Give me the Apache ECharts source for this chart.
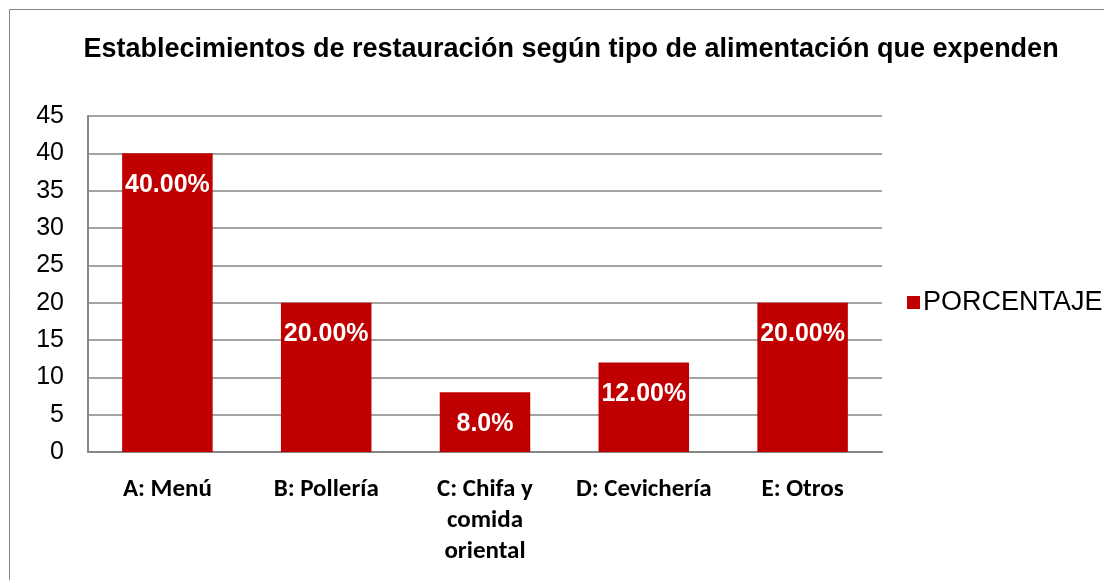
<!DOCTYPE html>
<html><head><meta charset="utf-8">
<script src="https://cdn.jsdelivr.net/npm/echarts@6/dist/echarts.min.js"></script>
<style>html,body{margin:0;padding:0;background:#fff}#c{width:1104px;height:580px}</style>
</head><body><div id="c"></div>
<script>
const categories = ['A: Menú', 'B: Pollería', 'C: Chifa y\ncomida\noriental', 'D: Cevichería', 'E: Otros'];
const values = [40, 20, 8, 12, 20];
const valueLabels = ['40.00%', '20.00%', '8.0%', '12.00%', '20.00%'];
const seriesName = 'PORCENTAJE';
const titleText = 'Establecimientos de restauración según tipo de alimentación que expenden';

const chart = echarts.init(document.getElementById('c'), null, {renderer: 'canvas'});
chart.setOption({
  animation: false,
  backgroundColor: '#fff',
  graphic: [{type: 'rect', shape: {x: 9.5, y: 9.5, width: 1100, height: 580}, style: {fill: 'none', stroke: '#868686', lineWidth: 1}, silent: true}],
  title: {text: titleText, left: 566, top: 31, textAlign: 'center',
    textStyle: {fontFamily: 'Liberation Sans, Arial', fontWeight: 'bold', fontSize: 27, color: '#000'}},
  legend: {data: [seriesName], left: 902, top: 284, icon: 'rect', itemWidth: 13, itemHeight: 13, itemGap: 8,
    textStyle: {fontFamily: 'Liberation Sans, Arial', fontSize: 27, color: '#000', padding: [0,0,0,-2]}},
  grid: {left: 88, right: 222, top: 116, bottom: 128, containLabel: false},
  xAxis: {type: 'category', data: categories,
    axisLine: {lineStyle: {color: '#868686', width: 2}}, axisTick: {show: false},
    axisLabel: {interval: 0, margin: 22, lineHeight: 31, fontFamily: 'Carlito, Lato, Open Sans', fontWeight: 'bold', fontSize: 25, color: '#000'}},
  yAxis: {type: 'value', min: 0, max: 45, interval: 5,
    axisLine: {show: true, lineStyle: {color: '#868686', width: 2}}, axisTick: {show: false},
    splitLine: {lineStyle: {color: '#868686', width: 1.5}},
    axisLabel: {margin: 24, fontFamily: 'Liberation Sans, Arial', fontSize: 25, color: '#000'}},
  series: [{name: seriesName, type: 'bar', data: values, barWidth: '57%',
    itemStyle: {color: '#C00000'},
    label: {show: true, position: 'insideTop', distance: 19,
      formatter: p => valueLabels[p.dataIndex],
      fontFamily: 'Liberation Sans, Arial', fontWeight: 'bold', fontSize: 25, color: '#fff'}}]
});
</script></body></html>
